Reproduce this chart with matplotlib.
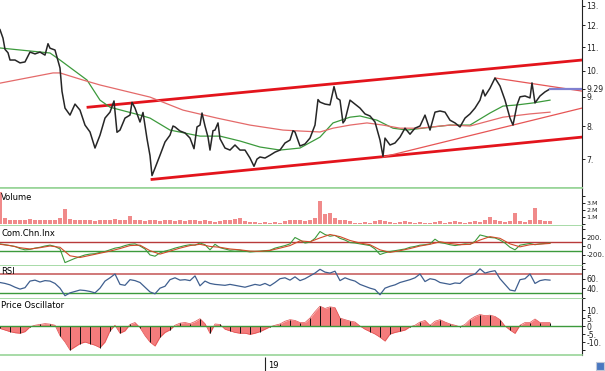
import numpy as np
import matplotlib
matplotlib.use("Agg")
import matplotlib.pyplot as plt
from matplotlib.ticker import FixedLocator, NullFormatter

# price (close), x = trading-day index
price_day = [0, 3, 5, 8, 10, 15, 20, 25, 30, 35, 40, 45, 48, 50, 55, 58, 60, 62, 65, 70,
             75, 80, 85, 90, 95, 100, 105, 110, 114, 117, 120, 125, 130, 132, 135, 140, 143, 147, 150, 152,
             155, 160, 165, 170, 173, 175, 180, 185, 190, 194, 197, 200, 202, 205, 208, 210, 213, 215, 218, 220,
             225, 230, 235, 240, 245, 250, 254, 257, 260, 265, 270, 275, 280, 285, 290, 293, 295, 300, 305, 310,
             315, 318, 320, 325, 330, 334, 337, 340, 343, 345, 350, 355, 360, 365, 370, 375, 380, 383, 385, 390,
             395, 400, 405, 410, 415, 420, 425, 430, 435, 440, 445, 450, 455, 460, 465, 470, 475, 480, 483, 485,
             490, 495, 500, 505, 510, 513, 517, 520, 525, 530, 532, 535, 540, 545, 550]
price_close = [11.8, 11.4, 10.9, 10.75, 10.44, 10.44, 10.32, 10.36, 10.78, 10.70, 10.78, 10.65, 11.15, 10.95, 10.87, 10.4, 10.11, 9.2, 8.60, 8.36,
               8.74, 8.53, 8.03, 7.81, 7.32, 7.71, 8.26, 8.46, 8.85, 7.8, 7.87, 8.26, 8.36, 8.8, 8.60, 8.13, 8.45, 7.6, 7.1, 6.55,
               6.75, 7.11, 7.50, 7.71, 8.0, 7.97, 7.84, 7.78, 7.62, 7.3, 7.97, 8.03, 8.43, 8.0, 7.65, 7.26, 7.85, 7.87, 8.1, 7.6,
               7.32, 7.26, 7.41, 7.26, 7.26, 7.03, 6.8, 7.0, 7.06, 7.03, 7.11, 7.20, 7.26, 7.47, 7.56, 7.85, 7.81, 7.38, 7.44, 7.62,
               8.03, 8.9, 8.81, 8.74, 8.71, 9.38, 8.95, 8.88, 8.1, 8.19, 8.88, 8.74, 8.60, 8.40, 8.33, 8.13, 7.56, 7.08, 7.62, 7.41,
               7.47, 7.65, 7.93, 7.74, 7.93, 8.00, 8.36, 7.87, 8.46, 8.50, 8.46, 8.19, 8.10, 7.97, 8.26, 8.40, 8.60, 8.88, 9.25, 9.03,
               9.32, 9.71, 9.40, 8.88, 8.26, 8.03, 8.71, 9.00, 9.03, 8.96, 9.52, 8.78, 9.03, 9.18, 9.29]
last_price = 9.29

# moving averages
ma_short_day = [0, 50, 60, 87, 100, 110, 140, 150, 170, 200, 220, 240, 260, 280, 300, 320, 333, 350, 360, 377,
                393, 407, 433, 450, 470, 490, 503, 517, 533, 550]
ma_short = [10.96, 10.74, 10.44, 9.63, 8.88, 8.63, 8.36, 8.26, 7.87, 7.68, 7.68, 7.53, 7.35, 7.26, 7.32, 7.65, 8.10, 8.29, 8.33, 8.19,
            7.93, 7.87, 7.97, 8.03, 8.03, 8.43, 8.67, 8.71, 8.78, 8.88]
ma_long_day = [0, 53, 60, 83, 100, 150, 183, 217, 250, 283, 300, 320, 333, 350, 367, 383, 400, 420, 450, 470, 503, 530, 550]
ma_long = [9.51, 9.91, 9.91, 9.63, 9.44, 8.99, 8.53, 8.26, 8.03, 7.87, 7.84, 7.81, 7.93, 8.03, 8.10, 8.03, 7.93, 7.93, 8.03, 8.00,
           8.29, 8.40, 8.46]

# trend lines (start day, start price, end day, end price)
channel_top = [(88, 8.63), (582, 10.44)]
channel_bottom = [(152, 6.45), (582, 7.65)]
support_line = [(383, 7.06), (582, 8.60)]
resist_line = [(495, 9.71), (582, 9.21)]

# indicators, one value every 5 days
volume_m = [4.5, 0.8, 0.6, 0.5, 0.6, 0.5, 0.7, 0.6, 0.5, 0.6, 0.5, 0.6, 0.8, 2.1, 0.7, 0.6, 0.5, 0.6, 0.5, 0.4,
            0.5, 0.6, 0.5, 0.7, 0.6, 0.5, 1.1, 0.6, 0.5, 0.4, 0.6, 0.5, 0.4, 0.5, 0.6, 0.4, 0.5, 0.4, 0.5, 0.6,
            0.4, 0.5, 0.4, 0.3, 0.4, 0.5, 0.6, 0.7, 0.9, 0.4, 0.3, 0.3, 0.2, 0.3, 0.1, 0.3, 0.2, 0.4, 0.5, 0.6,
            0.5, 0.4, 0.5, 0.9, 3.3, 1.4, 1.6, 0.9, 0.6, 0.5, 0.4, 0.2, 0.1, 0.3, 0.2, 0.4, 0.5, 0.4, 0.3, 0.2,
            0.3, 0.4, 0.3, 0.2, 0.3, 0.2, 0.1, 0.3, 0.4, 0.2, 0.3, 0.4, 0.3, 0.2, 0.3, 0.4, 0.3, 0.5, 1.0, 0.5,
            0.4, 0.3, 0.4, 1.5, 0.4, 0.3, 0.5, 2.3, 0.5, 0.4, 0.4]
cci = [60, 40, 20, 0, -50, -80, -70, -40, -20, 10, 30, 0, -60, -380, -330, -280, -240, -200, -180, -170,
       -140, -120, -80, -40, -20, 20, 50, 60, 10, -60, -200, -230, -150, -110, -80, -40, -10, 20, 40, 30,
       80, 40, -80, 50, -30, -60, -90, -80, -90, -110, -130, -120, -110, -100, -90, -40, -10, 20, 60, 210,
       150, 80, 100, 190, 350, 280, 240, 260, 190, 150, 90, 80, 60, 40, 20, -60, -190, -150, -120, -100,
       -80, -60, -20, 0, 30, 40, 60, 170, 90, 70, 40, 20, 40, 60, 50, 120, 270, 240, 210, 200,
       150, 80, -20, -80, 30, 50, 70, 40, 60, 70, 80]
# smoothed CCI, one value every 10 days
cci_signal = [50, 20, -30, -60, -30, 10, -20, -220, -260, -210, -160, -110, -50, 20, 30, -100, -180, -110, -40, 20,
              50, 0, -20, -60, -80, -110, -115, -95, -40, 20, 130, 110, 200, 280, 230, 140, 80, 40, -80, -140,
              -100, -50, 10, 50, 110, 70, 40, 50, 150, 230, 190, 60, -10, 40, 55, 70]
rsi = [52, 50, 47, 42, 38, 41, 55, 57, 53, 56, 55, 50, 40, 24, 30, 33, 36, 35, 33, 30,
       40, 55, 62, 70, 48, 46, 58, 56, 52, 42, 32, 28, 40, 44, 58, 62, 57, 58, 56, 66,
       45, 55, 50, 48, 47, 46, 48, 46, 44, 42, 45, 48, 46, 50, 45, 52, 60, 62, 57, 64,
       56, 60, 66, 72, 80, 74, 72, 76, 56, 62, 58, 55, 48, 44, 40, 37, 26, 40, 44, 47,
       52, 55, 58, 62, 70, 54, 60, 58, 52, 50, 48, 51, 50, 60, 66, 70, 81, 72, 75, 77,
       60, 48, 36, 34, 58, 60, 70, 50, 56, 58, 57]
price_osc = [-1.5, -2.5, -3.5, -4.2, -4.5, -3.5, -0.5, 0.5, 1.0, 1.5, 1.2, 0.5, -6, -10, -15, -13, -11, -10, -11, -12,
             -13.5, -10, -3, 0.5, -4.5, -3, 1.0, 2.2, -1, -6, -10, -12.5, -7, -4, -2.4, 0.5, 1.8, 2.2, 1.5, 2.8,
             4.6, 1.5, -4.6, 1.3, 1.0, -2, -3, -4, -4.5, -4.5, -5.2, -4.5, -3.5, -2, -0.5, 0.5, 1.3, 3, 4, 3.5,
             2.2, 2.2, 5, 9, 12.4, 11, 12, 11.5, 5, 4, 3.1, 2.5, 0, -2, -3.5, -5, -7, -9.4, -5, -4,
             -3.3, -2.5, -0.5, 0.5, 2.5, 3.5, 0.4, 3, 4, 2.5, 1.3, 0.5, -0.5, 1, 4, 6, 7.2, 6.5, 6.8, 6,
             4, 0, -2.5, -4.6, 0.5, 2.2, 2.2, 4.4, 2.2, 2.2, 2.2]
date_label = "19"
date_day = 265

W, H = 605, 371
XR = 582
fig = plt.figure(figsize=(W / 100, H / 100), dpi=100)
plt.rcParams['font.family'] = 'DejaVu Sans'

sep_color = '#98d498'
TICK_FS = 5.6


def panel(top, bottom, fs=TICK_FS):
    ax = fig.add_axes([0, 1 - bottom / H, XR / W, (bottom - top) / H])
    ax.set_xlim(0, XR)
    ax.set_facecolor('white')
    ax.spines['left'].set_visible(False)
    ax.spines['top'].set_visible(False)
    ax.spines['bottom'].set_color(sep_color)
    ax.spines['bottom'].set_linewidth(1.2)
    ax.spines['right'].set_color('#222222')
    ax.spines['right'].set_linewidth(0.8)
    ax.xaxis.set_visible(False)
    ax.yaxis.tick_right()
    ax.tick_params(axis='y', which='major', direction='out', length=2.5, width=0.7,
                   labelsize=fs, pad=0.8, colors='#222222')
    ax.tick_params(axis='y', which='minor', direction='out', length=2, width=0.6)
    return ax


# main price panel
ax = panel(0, 188)
ax.set_yscale('log')
ax.set_ylim(6.23, 13.3)
ax.plot(price_day, price_close, color='#262626', lw=1.1, zorder=5)
ax.plot(ma_short_day, ma_short, color='#3c9a3c', lw=0.9, zorder=4)
ax.plot(ma_long_day, ma_long, color='#e46a6a', lw=0.9, zorder=4)
for ln, w, c in [(channel_top, 2.0, '#e3141c'), (channel_bottom, 2.0, '#e3141c'),
                 (support_line, 0.9, '#e65555'), (resist_line, 0.9, '#e65555')]:
    ax.plot([ln[0][0], ln[1][0]], [ln[0][1], ln[1][1]], color=c, lw=w, zorder=3)
ax.plot([price_day[-1], XR], [last_price, last_price], color='#8080d0', lw=1.6, zorder=6)
ax.yaxis.set_major_locator(FixedLocator([7, 8, 9, 10, 11, 12, 13, last_price]))
ax.yaxis.set_minor_locator(FixedLocator([]))
ax.yaxis.set_minor_formatter(NullFormatter())
ax.set_yticklabels(['7.', '8.', '9.', '10.', '11.', '12.', '13.', '%.2f' % last_price])

days5 = np.arange(len(volume_m)) * 5
LBL = dict(fontsize=6, va='top', ha='left')

# volume
axv = panel(188, 226, fs=4.6)
axv.set_ylim(-0.29, 5.14)
axv.bar(days5, volume_m, width=3.6, color='#f08a8a', linewidth=0)
axv.set_yticks([0, 1, 2, 3, 4])
axv.set_yticklabels(['', '1.M', '2.M', '3.M', ''])
axv.text(0.002, 0.86, 'Volume', transform=axv.transAxes, **LBL)
axv.spines['top'].set_visible(True)
axv.spines['top'].set_color(sep_color)
axv.spines['top'].set_linewidth(1.2)

# commodity channel index
axc = panel(226, 266, fs=5.0)
axc.set_ylim(-460, 480)
axc.axhline(100, color='#b83a3a', lw=1.0)
axc.axhline(-100, color='#3c9a3c', lw=1.0)
axc.plot(np.arange(len(cci)) * 5, cci, color='#3c9a3c', lw=0.8)
axc.plot(np.arange(len(cci_signal)) * 10, cci_signal, color='#d04a2a', lw=0.8)
axc.set_yticks([-400, -200, 0, 200, 400])
axc.set_yticklabels(['', '-200.', '0', '200.', ''])
axc.text(0.002, 0.93, 'Com.Chn.Inx', transform=axc.transAxes, **LBL)

# RSI
axr = panel(266, 299)
axr.set_ylim(17, 87)
axr.axhline(70, color='#d07878', lw=1.4)
axr.axhline(30, color='#3c9a3c', lw=1.0)
axr.plot(np.arange(len(rsi)) * 5, rsi, color='#3f5f8f', lw=0.9)
axr.set_yticks([20, 40, 60, 80])
axr.set_yticklabels(['', '40.', '60.', ''])
axr.text(0.002, 0.97, 'RSI', transform=axr.transAxes, **LBL)

# price oscillator
axo = panel(299, 355)
axo.set_ylim(-18.1, 16.9)
d_osc = np.arange(len(price_osc)) * 5
axo.fill_between(d_osc, 0, price_osc, color='#f47c7c', linewidth=0)
axo.plot(d_osc, price_osc, color='#e05050', lw=0.5)
axo.vlines(d_osc[::2], 0, price_osc[::2], color='#111111', lw=0.7)
axo.axhline(0, color='#3c9a3c', lw=1.0)
axo.set_yticks([-15, -10, -5, 0, 5, 10])
axo.set_yticklabels(['', '-10.', '-5.', '0', '5.', '10.'])
axo.text(0.002, 0.96, 'Price Oscillator', transform=axo.transAxes, **LBL)

# date strip
axd = fig.add_axes([0, 0, XR / W, 16 / H])
axd.set_xlim(0, XR)
axd.set_ylim(0, 1)
axd.axis('off')
axd.vlines(date_day, 0, 0.85, color='#222222', lw=0.8)
axd.text(date_day + 3, 0.35, date_label, fontsize=6, va='center', ha='left')

# small corner icon
fig.patches.append(plt.Rectangle((596 / W, 1 / H), 8 / W, 8 / H, transform=fig.transFigure,
                                 facecolor='#4a78c0', edgecolor='#c0c8d8', lw=0.8))

fig.savefig('out.png', dpi=100)
